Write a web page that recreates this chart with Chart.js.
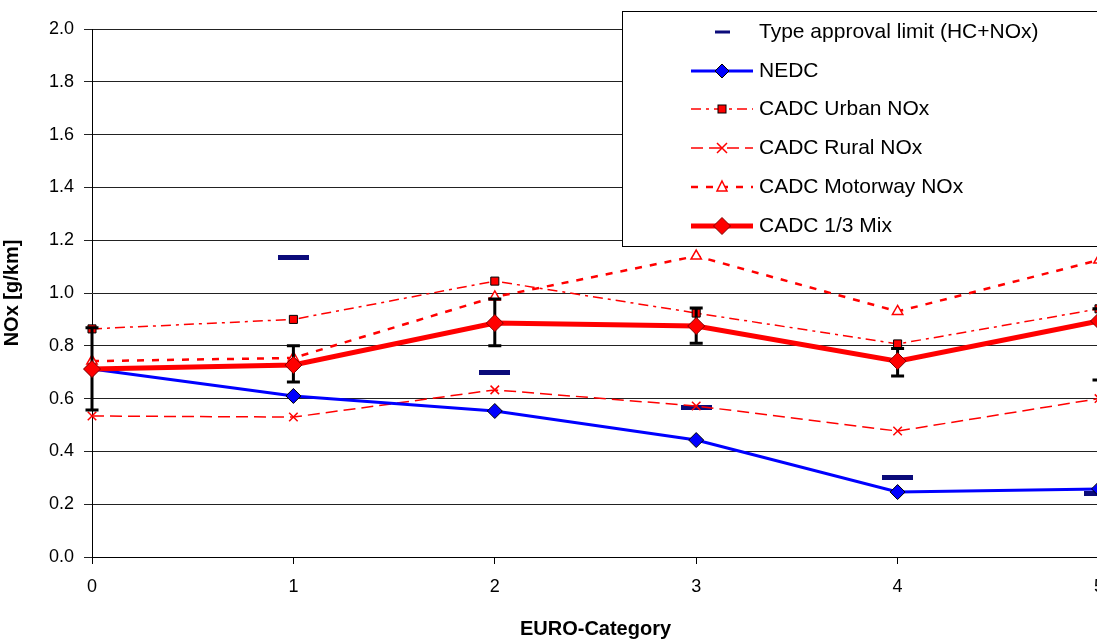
<!DOCTYPE html>
<html>
<head>
<meta charset="utf-8">
<script src="https://cdn.jsdelivr.net/npm/chart.js@4.4.0/dist/chart.umd.min.js"></script>
<style>
  html, body { margin: 0; padding: 0; background: #fff; overflow: hidden; width: 1097px; height: 639px; }
  #wrap { width: 1110px; height: 639px; }
</style>
</head>
<body>
<div id="wrap"><canvas id="c" width="1110" height="639"></canvas></div>
<script>
// ---- data ----
const categories = [0, 1, 2, 3, 4, 5];
const typeApproval = [null, 1.133, 0.70, 0.565, 0.303, 0.242];
const nedc = [0.712, 0.61, 0.553, 0.443, 0.246, 0.258];
const cadcUrban = [0.864, 0.90, 1.045, 0.924, 0.807, 0.94];
const cadcRural = [0.534, 0.53, 0.633, 0.572, 0.477, 0.60];
const cadcMotorway = [0.742, 0.754, 0.985, 1.14, 0.93, 1.125];
const cadcMix = [0.712, 0.727, 0.886, 0.875, 0.742, 0.894];
const mixErrLow = [0.557, 0.663, 0.80, 0.81, 0.686, 0.67];
const mixErrHigh = [0.868, 0.80, 0.977, 0.943, 0.79, 0.94];
const yTicks = [0, 0.2, 0.4, 0.6, 0.8, 1.0, 1.2, 1.4, 1.6, 1.8, 2.0];
const labels = {
  limit: 'Type approval limit (HC+NOx)',
  nedc: 'NEDC',
  urban: 'CADC Urban NOx',
  rural: 'CADC Rural NOx',
  motorway: 'CADC Motorway NOx',
  mix: 'CADC 1/3 Mix'
};

const pts = arr => categories.map((c, i) => ({ x: c, y: arr[i] }));

const NAVY = '#0b0b7a';
const dashImg = document.createElement('canvas');
dashImg.width = 31; dashImg.height = 5;
(function () { const g = dashImg.getContext('2d'); g.fillStyle = NAVY; g.fillRect(0, 0, 31, 5); })();

const FONT = "'Liberation Sans', Arial, sans-serif";

const errorBars = {
  id: 'errorBars',
  beforeDatasetDraw(chart, args) {
    const ds = chart.data.datasets[args.index];
    if (ds.label !== labels.mix) return;
    const x = chart.scales.x, y = chart.scales.y, ctx = chart.ctx;
    ctx.save();
    ctx.strokeStyle = '#000';
    ctx.lineWidth = 3;
    ctx.setLineDash([]);
    categories.forEach((c, i) => {
      const px = x.getPixelForValue(c);
      const y1 = y.getPixelForValue(mixErrLow[i]);
      const y2 = y.getPixelForValue(mixErrHigh[i]);
      ctx.beginPath();
      ctx.moveTo(px, y1); ctx.lineTo(px, y2);
      ctx.moveTo(px - 6.5, y1); ctx.lineTo(px + 6.5, y1);
      ctx.moveTo(px - 6.5, y2); ctx.lineTo(px + 6.5, y2);
      ctx.stroke();
    });
    ctx.restore();
  }
};

function diamond(ctx, x, y, r, fill, stroke, lw) {
  ctx.beginPath();
  ctx.moveTo(x, y - r); ctx.lineTo(x + r, y); ctx.lineTo(x, y + r); ctx.lineTo(x - r, y); ctx.closePath();
  ctx.fillStyle = fill; ctx.fill();
  ctx.lineWidth = lw; ctx.strokeStyle = stroke; ctx.setLineDash([]); ctx.stroke();
}

const customLegend = {
  id: 'customLegend',
  afterDraw(chart) {
    const ctx = chart.ctx;
    ctx.save();
    ctx.fillStyle = '#fff';
    ctx.fillRect(622.5, 11.5, 600, 235);
    ctx.strokeStyle = '#000'; ctx.lineWidth = 1; ctx.setLineDash([]);
    ctx.strokeRect(622.5, 11.5, 600, 235);
    const x0 = 691, x1 = 753, xm = 722, tx = 759;
    const rows = [32, 71, 109, 148, 187, 226];
    ctx.font = '21px ' + FONT;
    ctx.textBaseline = 'middle';
    ctx.textAlign = 'left';
    // limit
    ctx.fillStyle = NAVY; ctx.fillRect(715, rows[0] - 1.5, 15, 3);
    // NEDC
    ctx.strokeStyle = '#0000ff'; ctx.lineWidth = 3; ctx.setLineDash([]);
    ctx.beginPath(); ctx.moveTo(x0, rows[1]); ctx.lineTo(x1, rows[1]); ctx.stroke();
    diamond(ctx, xm, rows[1], 7, '#0000ff', '#000', 1);
    // Urban
    ctx.strokeStyle = '#ff0000'; ctx.lineWidth = 1.5; ctx.setLineDash([10, 5, 3, 5]);
    ctx.beginPath(); ctx.moveTo(x0, rows[2]); ctx.lineTo(x1, rows[2]); ctx.stroke();
    ctx.setLineDash([]); ctx.fillStyle = '#ff0000'; ctx.fillRect(xm - 4, rows[2] - 4, 8, 8);
    ctx.strokeStyle = '#000'; ctx.lineWidth = 1; ctx.strokeRect(xm - 4, rows[2] - 4, 8, 8);
    // Rural
    ctx.strokeStyle = '#ff0000'; ctx.lineWidth = 1.5; ctx.setLineDash([12, 6]);
    ctx.beginPath(); ctx.moveTo(x0, rows[3]); ctx.lineTo(x1, rows[3]); ctx.stroke();
    ctx.setLineDash([]); ctx.beginPath();
    ctx.moveTo(xm - 5, rows[3] - 5); ctx.lineTo(xm + 5, rows[3] + 5);
    ctx.moveTo(xm + 5, rows[3] - 5); ctx.lineTo(xm - 5, rows[3] + 5); ctx.stroke();
    // Motorway
    ctx.strokeStyle = '#ff0000'; ctx.lineWidth = 2.5; ctx.setLineDash([7, 8]);
    ctx.beginPath(); ctx.moveTo(x0, rows[4]); ctx.lineTo(x1, rows[4]); ctx.stroke();
    ctx.setLineDash([]); ctx.lineWidth = 1.5; ctx.fillStyle = '#fff';
    ctx.beginPath(); ctx.moveTo(xm, rows[4] - 6); ctx.lineTo(xm + 5, rows[4] + 4); ctx.lineTo(xm - 5, rows[4] + 4); ctx.closePath();
    ctx.fill(); ctx.stroke();
    // Mix
    ctx.strokeStyle = '#ff0000'; ctx.lineWidth = 5; ctx.setLineDash([]);
    ctx.beginPath(); ctx.moveTo(x0, rows[5]); ctx.lineTo(x1, rows[5]); ctx.stroke();
    diamond(ctx, xm, rows[5], 8.5, '#ff0000', '#800000', 1);
    // texts
    ctx.fillStyle = '#000';
    ctx.fillText(labels.limit, tx, rows[0]);
    ctx.fillText(labels.nedc, tx, rows[1]);
    ctx.fillText(labels.urban, tx, rows[2]);
    ctx.fillText(labels.rural, tx, rows[3]);
    ctx.fillText(labels.motorway, tx, rows[4]);
    ctx.fillText(labels.mix, tx, rows[5]);
    ctx.restore();
  }
};

new Chart(document.getElementById('c'), {
  type: 'line',
  data: {
    datasets: [
      { label: labels.limit, data: pts(typeApproval), showLine: false, pointStyle: dashImg,
        pointRadius: 8, order: 6 },
      { label: labels.nedc, data: pts(nedc), borderColor: '#0000ff', borderWidth: 3,
        pointStyle: 'rectRot', pointRadius: 7.5, pointBackgroundColor: '#0000ff',
        pointBorderColor: '#000', pointBorderWidth: 1, order: 1 },
      { label: labels.urban, data: pts(cadcUrban), borderColor: '#ff0000', borderWidth: 1.5,
        borderDash: [10, 5, 3, 5], pointStyle: 'rect', pointRadius: 5.7,
        pointBackgroundColor: '#ff0000', pointBorderColor: '#000', pointBorderWidth: 1, order: 3 },
      { label: labels.rural, data: pts(cadcRural), borderColor: '#ff0000', borderWidth: 1.5,
        borderDash: [12, 6], pointStyle: 'crossRot', pointRadius: 6,
        pointBorderColor: '#ff0000', pointBorderWidth: 1.5, order: 4 },
      { label: labels.motorway, data: pts(cadcMotorway), borderColor: '#ff0000', borderWidth: 2.5,
        borderDash: [7, 8], pointStyle: 'triangle', pointRadius: 6,
        pointBackgroundColor: '#ffffff', pointBorderColor: '#ff0000', pointBorderWidth: 1.5, order: 5 },
      { label: labels.mix, data: pts(cadcMix), borderColor: '#ff0000', borderWidth: 5,
        pointStyle: 'rectRot', pointRadius: 8.5, pointBackgroundColor: '#ff0000',
        pointBorderColor: '#800000', pointBorderWidth: 1, order: 0 }
    ]
  },
  options: {
    responsive: false,
    animation: false,
    devicePixelRatio: 1,
    clip: false,
    layout: { padding: { left: 0, top: 29, right: 11, bottom: 0 } },
    plugins: { legend: { display: false }, tooltip: { enabled: false } },
    elements: { line: { tension: 0, borderCapStyle: 'butt' } },
    scales: {
      x: {
        type: 'linear', min: 0, max: 5,
        afterFit(s) { s.height = 82; s.paddingLeft = 0; s.paddingRight = 0; },
        afterBuildTicks(s) { s.ticks = categories.map(v => ({ value: v })); },
        ticks: { color: '#000', font: { family: FONT, size: 18 }, padding: 12, maxRotation: 0 },
        grid: { drawOnChartArea: false, drawTicks: true, tickLength: 7, color: '#000' },
        border: { color: '#000', width: 1 },
        title: { display: true, text: 'EURO-Category', color: '#000',
          font: { family: FONT, size: 20, weight: 'bold' }, padding: { top: 0, bottom: -2 } }
      },
      y: {
        min: 0, max: 2,
        afterFit(s) { s.width = 92; },
        afterBuildTicks(s) { s.ticks = yTicks.map(v => ({ value: v })); },
        ticks: { color: '#000', font: { family: FONT, size: 18 }, padding: 10,
          callback: v => Number(v).toFixed(1) },
        grid: { color: '#222', lineWidth: 1, tickLength: 8 },
        border: { color: '#000', width: 1 },
        title: { display: true, text: 'NOx [g/km]', color: '#000',
          font: { family: FONT, size: 20, weight: 'bold' }, padding: { top: 0, bottom: 0 } }
      }
    }
  },
  plugins: [errorBars, customLegend]
});
</script>
</body>
</html>
